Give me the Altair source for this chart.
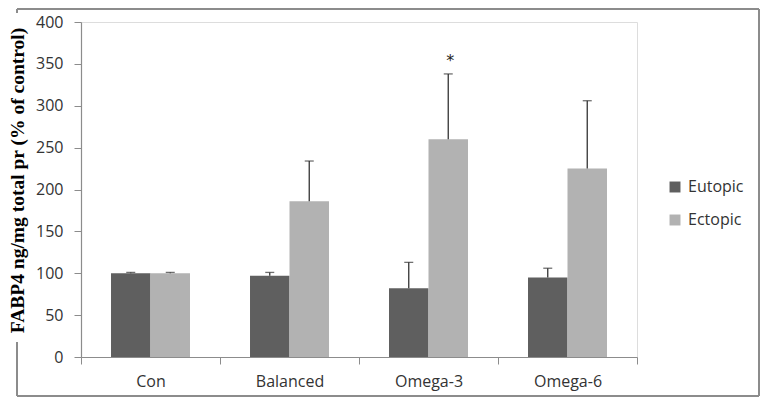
import altair as alt
import pandas as pd

categories = ["Con", "Balanced", "Omega-3", "Omega-6"]
series = ["Eutopic", "Ectopic"]
eutopic = [100, 97, 82, 95]
eutopic_err = [1, 4, 31, 11]
ectopic = [100, 186, 260, 225]
ectopic_err = [1, 48, 78, 81]
star_labels = ["", "", "*", ""]
y_ticks = [0, 50, 100, 150, 200, 250, 300, 350, 400]

rows = []
for i, c in enumerate(categories):
    rows.append({"cat": c, "series": "Eutopic", "value": eutopic[i],
                 "upper": eutopic[i] + eutopic_err[i], "star": ""})
    rows.append({"cat": c, "series": "Ectopic", "value": ectopic[i],
                 "upper": ectopic[i] + ectopic_err[i], "star": star_labels[i]})
df = pd.DataFrame(rows)

FONT = "Open Sans"

x_enc = alt.X("cat:N", sort=categories, title=None,
              scale=alt.Scale(paddingInner=0, paddingOuter=0),
              axis=alt.Axis(labelAngle=0, tickBand="extent", labelFont=FONT,
                            labelFontSize=16, labelColor="#333333",
                            labelPadding=9, tickSize=7, domainColor="#8c8c8c",
                            tickColor="#8c8c8c", domainWidth=1.2))
xoff = alt.XOffset("series:N", sort=series,
                   scale=alt.Scale(paddingInner=0, paddingOuter=0.76))
y_scale = alt.Scale(domain=[0, 400], nice=False)

bars = alt.Chart(df).mark_bar().encode(
    x=x_enc,
    xOffset=xoff,
    y=alt.Y("value:Q", scale=y_scale,
            title="FABP4 ng/mg total pr (% of control)",
            axis=alt.Axis(values=y_ticks, grid=False, labelFont=FONT,
                          labelFontSize=16, labelColor="#333333",
                          labelPadding=11, tickSize=7, domainColor="#8c8c8c",
                          tickColor="#8c8c8c", domainWidth=1.2,
                          titleFont="Liberation Serif", titleFontWeight="bold",
                          titleFontSize=19.5, titleColor="#000000",
                          titleX=-64, titleY=158, titleAlign="center",
                          titleBaseline="middle", titleAngle=-90)),
    color=alt.Color("series:N", sort=series,
                    scale=alt.Scale(domain=series, range=["#5f5f5f", "#b2b2b2"]),
                    legend=alt.Legend(title=None, orient="none", legendX=586,
                                      legendY=157, symbolType="square",
                                      symbolSize=120, symbolStrokeWidth=0,
                                      labelFont=FONT, labelFontSize=16,
                                      labelColor="#333333", rowPadding=17,
                                      labelOffset=5)),
)

rules = alt.Chart(df).mark_rule(color="#333333", strokeWidth=1.3).encode(
    x=alt.X("cat:N", sort=categories),
    xOffset=xoff,
    y=alt.Y("value:Q", scale=y_scale),
    y2="upper:Q",
)

caps = alt.Chart(df).mark_tick(color="#333333", thickness=1.3, size=9).encode(
    x=alt.X("cat:N", sort=categories),
    xOffset=xoff,
    y=alt.Y("upper:Q", scale=y_scale),
)

stars = alt.Chart(df).mark_text(font="DejaVu Sans", fontSize=16, baseline="bottom",
                                dy=-5, dx=2, color="#222222").encode(
    x=alt.X("cat:N", sort=categories),
    xOffset=xoff,
    y=alt.Y("upper:Q", scale=y_scale),
    text="star:N",
)

frame_style = dict(color="#8c8c8c", strokeWidth=2)
blank = alt.Data(values=[{}])
frame_top = alt.Chart(blank).mark_rule(**frame_style).encode(
    x=alt.value(-64), x2=alt.value(678), y=alt.value(-13))
frame_bottom = alt.Chart(blank).mark_rule(**frame_style).encode(
    x=alt.value(-64), x2=alt.value(678), y=alt.value(374))
frame_right = alt.Chart(blank).mark_rule(**frame_style).encode(
    x=alt.value(678), y=alt.value(-13), y2=alt.value(374))
frame_left_a = alt.Chart(blank).mark_rule(**frame_style).encode(
    x=alt.value(-64), y=alt.value(-13), y2=alt.value(-9))
frame_left_b = alt.Chart(blank).mark_rule(**frame_style).encode(
    x=alt.value(-64), y=alt.value(320), y2=alt.value(374))

chart = alt.layer(bars, rules, caps, stars, frame_top, frame_bottom, frame_right,
                  frame_left_a, frame_left_b).properties(
    width=556, height=335,
    autosize=alt.AutoSizeParams(type="none"),
    padding={"left": 73, "top": 14, "right": 124, "bottom": 41},
).configure_view(stroke=None).configure(background="white")

chart.save("out.html", embed_options={"renderer": "svg", "actions": False})
